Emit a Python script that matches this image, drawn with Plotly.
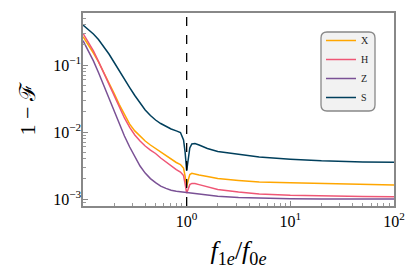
import plotly.graph_objects as go

# ---- data ----
f_ratio = [0.1, 0.112, 0.126, 0.141, 0.158, 0.178, 0.2, 0.224, 0.251, 0.282, 0.316, 0.355,
           0.398, 0.447, 0.501, 0.562, 0.631, 0.708, 0.794, 0.871, 0.933, 0.966, 1.0,
           1.035, 1.072, 1.122, 1.202, 1.318, 1.585, 1.995, 3.162, 5.012, 10, 19.95, 50.12, 100]

infid_X = [0.2645, 0.202, 0.151, 0.111, 0.0787, 0.0548, 0.0376, 0.0257, 0.0179, 0.0131,
           0.0104, 0.00857, 0.00735, 0.0064, 0.00568, 0.00494, 0.00439, 0.00389, 0.00351,
           0.00327, 0.0029, 0.0022, 0.00153,
           0.00192, 0.00232, 0.00242, 0.00238, 0.00228, 0.00217, 0.00202, 0.00189, 0.00179,
           0.00175, 0.0017, 0.00164, 0.00162]
infid_H = [0.297, 0.224, 0.162, 0.113, 0.0773, 0.052, 0.0351, 0.0236, 0.0162, 0.0117,
           0.00902, 0.00735, 0.00618, 0.00538, 0.00478, 0.00409, 0.00356, 0.00311, 0.00275,
           0.00253, 0.00224, 0.00168, 0.00122,
           0.00141, 0.00164, 0.00171, 0.0017, 0.00164, 0.00154, 0.00139, 0.00127, 0.00119,
           0.00114, 0.00111, 0.00109, 0.00108]
infid_Z = [0.231, 0.164, 0.115, 0.0773, 0.0502, 0.0321, 0.0202, 0.0129, 0.00871, 0.00597,
           0.00424, 0.00311, 0.00244, 0.00202, 0.00176, 0.00156, 0.00144, 0.00135, 0.00131,
           0.00128, 0.00127, 0.00126, 0.00126,
           0.00125, 0.00124, 0.00123, 0.00121, 0.00119, 0.00114, 0.0011, 0.00105, 0.00103,
           0.00101, 0.001003, 0.001, 0.001]
infid_S = [0.395, 0.339, 0.290, 0.240, 0.189, 0.146, 0.109, 0.0813, 0.0608, 0.0461,
           0.0351, 0.0271, 0.0213, 0.0176, 0.0151, 0.0134, 0.0121, 0.0111, 0.0104,
           0.00984, 0.0076, 0.00502, 0.00262,
           0.00409, 0.00577, 0.00662, 0.00673, 0.0064, 0.00568, 0.00512, 0.00461, 0.00424,
           0.00392, 0.00371, 0.00356, 0.00353]

series_names = ["X", "H", "Z", "S"]
series_values = [infid_X, infid_H, infid_Z, infid_S]
series_colors = ["#ffa600", "#ef5675", "#7a5195", "#003f5c"]
resonance = 1.0

x_tickvals = [1, 10, 100]
x_ticktext = ["10<sup>0</sup>", "10<sup>1</sup>", "10<sup>2</sup>"]
y_tickvals = [0.001, 0.01, 0.1]
y_ticktext = ["10<sup>−3</sup>", "10<sup>−2</sup>", "10<sup>−1</sup>"]
x_title = "<i>f</i><sub>1<i>e</i></sub>/<i>f</i><sub>0<i>e</i></sub>"
y_title = "1 − ℱ"

FONT = "Liberation Serif, DejaVu Serif, serif"

fig = go.Figure()
for name, vals, col in zip(series_names, series_values, series_colors):
    fig.add_trace(go.Scatter(x=f_ratio, y=vals, mode="lines", name=name,
                             line=dict(color=col, width=1.5)))

fig.add_vline(x=resonance, line=dict(color="black", width=1.3, dash="dash"))

# rounded legend frame (paper coords)
W, H = 415, 276
L, R, T, B = 83, 21, 13, 70
pw, ph = W - L - R, H - T - B
def xp(px):
    return (px - L) / pw
def yp(py):
    return (H - B - py) / ph
bx0, bx1, by0, by1, r = 321, 375, 32, 111, 6
path = (f"M{xp(bx0 + r)},{yp(by0)} L{xp(bx1 - r)},{yp(by0)} "
        f"Q{xp(bx1)},{yp(by0)} {xp(bx1)},{yp(by0 + r)} "
        f"L{xp(bx1)},{yp(by1 - r)} Q{xp(bx1)},{yp(by1)} {xp(bx1 - r)},{yp(by1)} "
        f"L{xp(bx0 + r)},{yp(by1)} Q{xp(bx0)},{yp(by1)} {xp(bx0)},{yp(by1 - r)} "
        f"L{xp(bx0)},{yp(by0 + r)} Q{xp(bx0)},{yp(by0)} {xp(bx0 + r)},{yp(by0)} Z")
fig.add_shape(type="path", path=path, xref="paper", yref="paper",
              fillcolor="#f2f2f2", line=dict(color="#888888", width=1.3), layer="above")

# y-axis title placed as rotated text left of the tick labels
fig.add_annotation(text=y_title, xref="paper", yref="paper", x=xp(27), y=0.5,
                   xanchor="center", yanchor="middle", textangle=-90, showarrow=False,
                   font=dict(family=FONT, size=22, color="black"))

axis_common = dict(
    type="log", showgrid=False, zeroline=False, showline=True, linecolor="#888888",
    linewidth=1.5, mirror=True, ticks="inside", ticklen=5, tickcolor="#888888",
    tickwidth=1, automargin=False,
    tickfont=dict(family=FONT, size=16, color="black"),
    minor=dict(ticks="inside", ticklen=3, tickcolor="#999999", dtick="D1", showgrid=False),
)

fig.update_layout(
    width=W, height=H,
    margin=dict(l=L, r=R, t=T, b=B),
    paper_bgcolor="white", plot_bgcolor="white",
    showlegend=True,
    legend=dict(x=xp(bx0), y=yp(by0 - 6), xanchor="left", yanchor="top",
                bgcolor="rgba(0,0,0,0)", borderwidth=0,
                font=dict(family=FONT, size=10, color="#222")),
    xaxis=dict(**axis_common, range=[-1, 2], tickvals=x_tickvals, ticktext=x_ticktext,
               title=dict(text=x_title, font=dict(family=FONT, size=26, color="black"),
                          standoff=12)),
    yaxis=dict(**axis_common, range=[-3.104, -0.224], tickvals=y_tickvals, ticktext=y_ticktext,
               ticklabelstandoff=-3),
)

fig.write_html("out.html", config={"displayModeBar": False},
               post_script="document.body.style.margin='0';")
